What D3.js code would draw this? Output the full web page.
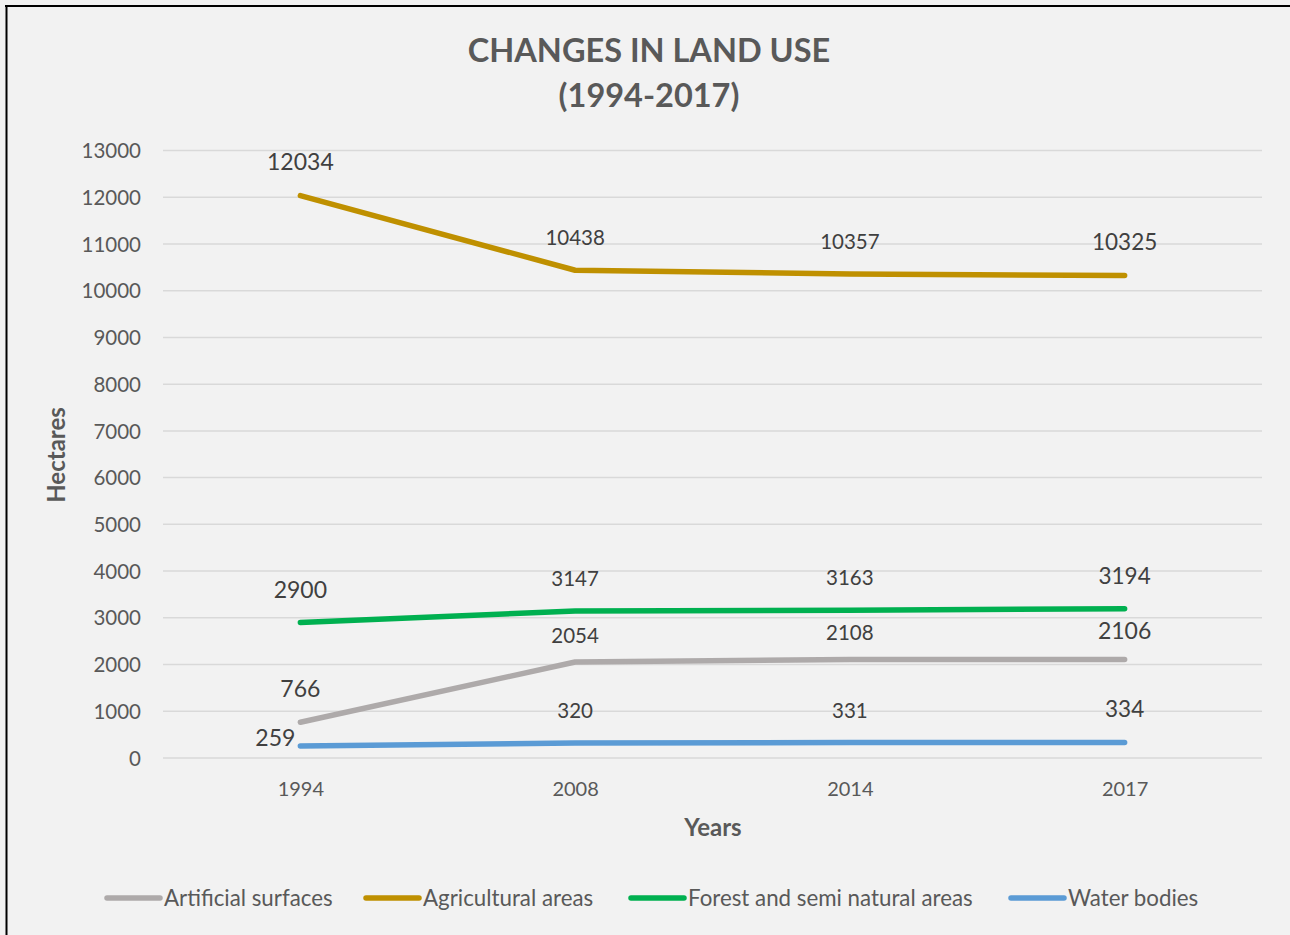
<!DOCTYPE html>
<html>
<head>
<meta charset="utf-8">
<script src="https://cdn.jsdelivr.net/npm/d3@7"></script>
<style>
  html, body { margin: 0; padding: 0; background: #f2f2f2; }
  svg { display: block; font-family: Lato, "Open Sans", sans-serif; }
</style>
</head>
<body>
<svg id="chart" width="1290" height="935"></svg>
<script>
// Land use in hectares by survey year
const years = ["1994", "2008", "2014", "2017"];
const seriesNames = ["Artificial surfaces", "Agricultural areas", "Forest and semi natural areas", "Water bodies"];
const artificial = [766, 2054, 2108, 2106];
const agricultural = [12034, 10438, 10357, 10325];
const forest = [2900, 3147, 3163, 3194];
const water = [259, 320, 331, 334];
const yTicks = [0, 1000, 2000, 3000, 4000, 5000, 6000, 7000, 8000, 9000, 10000, 11000, 12000, 13000];

const colors = ["#aeaaaa", "#bf9000", "#00b050", "#5b9bd5"];
const seriesValues = [artificial, agricultural, forest, water];

// label styling per series/point: font size and vertical lift above the point
const labelStyle = [
  [{ s: 23, dy: -33 }, { s: 20.5, dy: -26 }, { s: 20.5, dy: -27 }, { s: 23, dy: -29 }],
  [{ s: 23, dy: -34 }, { s: 20.5, dy: -32 }, { s: 20.5, dy: -32 }, { s: 22.5, dy: -33 }],
  [{ s: 23, dy: -33 }, { s: 20.5, dy: -32 }, { s: 20.5, dy: -32 }, { s: 22.5, dy: -33 }],
  [{ s: 23, dy: -8, dx: -25 }, { s: 20.5, dy: -32 }, { s: 20.5, dy: -32 }, { s: 22.5, dy: -33 }]
];

const svg = d3.select("#chart");

svg.append("rect").attr("width", 1290).attr("height", 935).attr("fill", "#f2f2f2");
// frame edges
svg.append("line").attr("x1", 6.5).attr("x2", 6.5).attr("y1", 5).attr("y2", 935)
  .attr("stroke", "#000").attr("stroke-width", 2);
svg.append("line").attr("x1", 5).attr("x2", 1290).attr("y1", 6).attr("y2", 6)
  .attr("stroke", "#000").attr("stroke-width", 2);

const plot = { left: 163, right: 1262, top: 150.5, bottom: 758 };

const x = d3.scalePoint().domain(years).range([plot.left, plot.right]).padding(0.5);
const y = d3.scaleLinear().domain([0, 13000]).range([plot.bottom, plot.top]);

// gridlines
svg.append("g").selectAll("line").data(yTicks).join("line")
  .attr("x1", plot.left).attr("x2", plot.right)
  .attr("y1", d => y(d)).attr("y2", d => y(d))
  .attr("stroke", "#d9d9d9").attr("stroke-width", 1.5);

// y axis labels
const yAxis = d3.axisLeft(y).tickValues(yTicks).tickSize(0).tickPadding(0).tickFormat(d3.format("d"));
const gy = svg.append("g").attr("transform", "translate(141,0)").call(yAxis);
gy.select(".domain").remove();
gy.selectAll("text").attr("font-size", 20.5).attr("fill", "#595959").attr("font-family", "Lato, sans-serif").attr("dy", "0.35em");

// x axis labels
const xAxis = d3.axisBottom(x).tickSize(0).tickPadding(0);
const gx = svg.append("g").attr("transform", "translate(0,789)").call(xAxis);
gx.select(".domain").remove();
gx.selectAll("text").attr("font-size", 20).attr("fill", "#595959").attr("font-family", "Lato, sans-serif").attr("dy", "0.35em");

// axis titles
svg.append("text").attr("x", 713).attr("y", 828).attr("dy", "0.35em")
  .attr("text-anchor", "middle").attr("font-size", 24).attr("font-weight", "bold")
  .attr("fill", "#595959").text("Years");
svg.append("text").attr("transform", "translate(57,455) rotate(-90)").attr("dy", "0.35em")
  .attr("text-anchor", "middle").attr("font-size", 24).attr("font-weight", "bold")
  .attr("fill", "#595959").text("Hectares");

// title
const title = svg.append("text").attr("text-anchor", "middle").attr("font-size", 32.5)
  .attr("font-weight", "bold").attr("fill", "#595959");
title.append("tspan").attr("x", 649).attr("y", 62).text("CHANGES IN LAND USE");
title.append("tspan").attr("x", 649).attr("y", 107).text("(1994-2017)");

// series lines
const line = d3.line().x((d, i) => x(years[i])).y(d => y(d));
svg.append("g").selectAll("path").data(seriesValues).join("path")
  .attr("d", d => line(d))
  .attr("fill", "none")
  .attr("stroke", (d, i) => colors[i])
  .attr("stroke-width", 5.5)
  .attr("stroke-linecap", "round")
  .attr("stroke-linejoin", "round");

// data labels
seriesValues.forEach((vals, si) => {
  svg.append("g").selectAll("text").data(vals).join("text")
    .attr("x", (d, i) => x(years[i]) + (labelStyle[si][i].dx || 0))
    .attr("y", (d, i) => y(d) + labelStyle[si][i].dy)
    .attr("dy", "0.35em")
    .attr("text-anchor", "middle")
    .attr("font-size", (d, i) => labelStyle[si][i].s)
    .attr("fill", "#404040")
    .text(d => d);
});

// legend
const legendX = [105, 364, 629, 1009];
const legend = svg.append("g").attr("transform", "translate(0,898)");
const items = legend.selectAll("g").data(seriesNames).join("g")
  .attr("transform", (d, i) => `translate(${legendX[i]},0)`);
items.append("line").attr("x1", 2).attr("x2", 55).attr("y1", 0).attr("y2", 0)
  .attr("stroke", (d, i) => colors[i]).attr("stroke-width", 5.5).attr("stroke-linecap", "round");
items.append("text").attr("x", 59).attr("dy", "0.35em").attr("font-size", 22.3)
  .attr("fill", "#595959").text(d => d);
</script>
</body>
</html>
